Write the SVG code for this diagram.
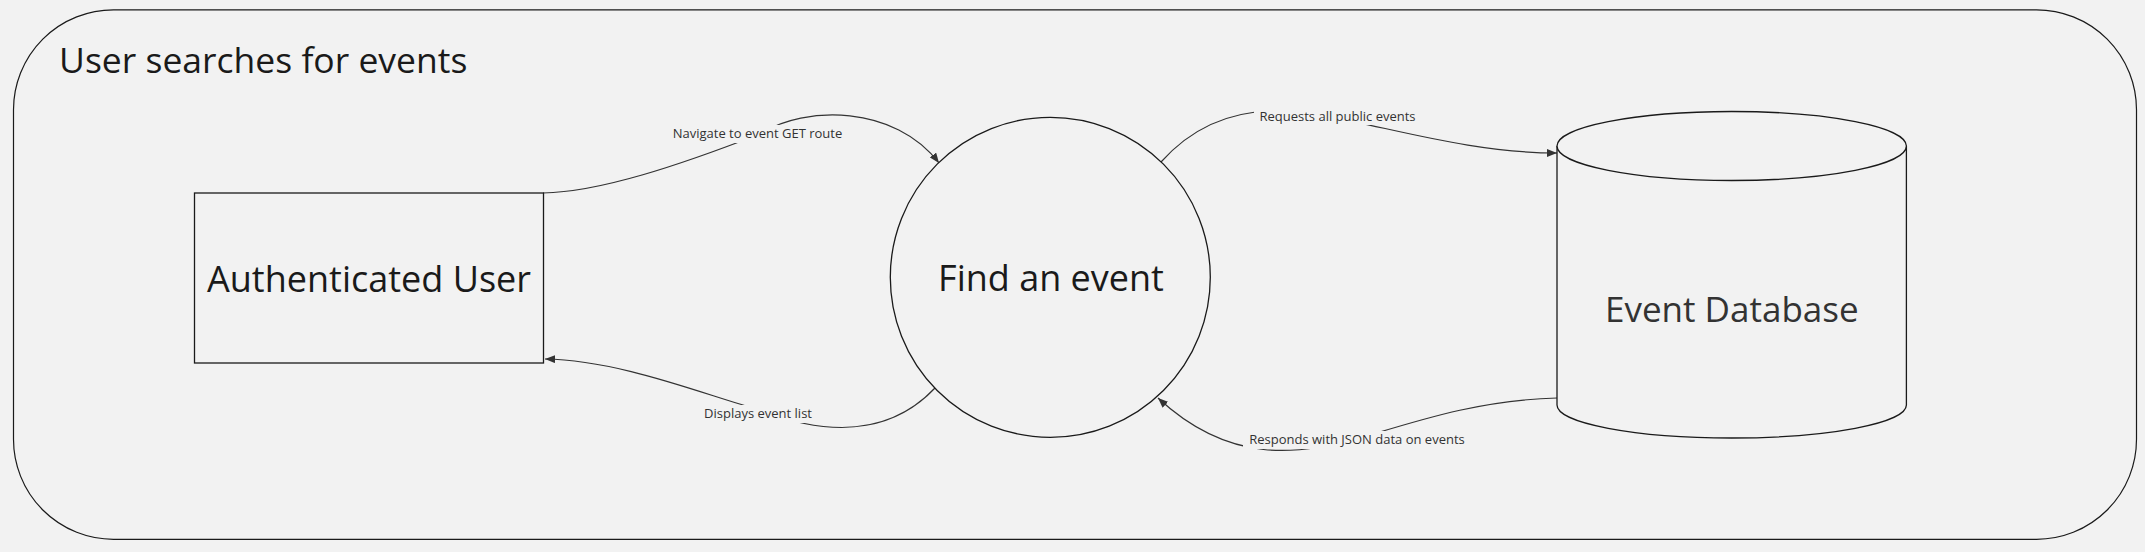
<svg xmlns="http://www.w3.org/2000/svg" width="2145" height="552" viewBox="0 0 2145 552">
<style>
.node{fill:#f2f2f2;stroke:#1a1a1a;stroke-width:1.3}
.big{font-family:"Open Sans","Noto Sans","Liberation Sans",sans-serif;font-size:36px;fill:#1a1a1a;text-anchor:middle}
.lbl{font-family:"Open Sans","Noto Sans","Liberation Sans",sans-serif;font-size:13px;fill:#333;text-anchor:middle}
.conn{fill:none;stroke:#333;stroke-width:1.2}
.mask{fill:#f2f2f2}
</style>
<defs>
<marker id="arr" viewBox="0 0 10 8" refX="10" refY="4" markerWidth="10" markerHeight="8" markerUnits="userSpaceOnUse" orient="auto">
<path d="M0,0 L10,4 L0,8 z" fill="#333"/>
</marker>
</defs>
<rect x="0" y="0" width="2145" height="552" fill="#f2f2f2"/>
<g id="frame">
<rect x="13.5" y="9.8" width="2123" height="529.5" rx="100" ry="100" fill="#f2f2f2" stroke="#1a1a1a" stroke-width="1.2"/>
<text x="59" y="72.7" font-family="'Open Sans','Noto Sans','Liberation Sans',sans-serif" font-size="35.5" fill="#1a1a1a">User searches for events</text>
</g>
<g id="connectors">
<path class="conn" d="M543,193 C600,192 680,165 760,134 C805,105 895,105 939,163" marker-end="url(#arr)"/>
<path class="conn" d="M935,388 C900,425 845,443 760,410 C705,395 620,360 545,359" marker-end="url(#arr)"/>
<path class="conn" d="M1161,162 C1195,124 1235,110 1280,111 C1350,113 1450,153 1557,153" marker-end="url(#arr)"/>
<path class="conn" d="M1557,398 C1480,400 1420,420 1360,438 C1300,455 1230,465 1158,398" marker-end="url(#arr)"/>
<g id="lbl-navigate"><rect class="mask" x="668" y="125" width="180" height="18"/><text class="lbl" x="757.5" y="138">Navigate to event GET route</text></g>
<g id="lbl-displays"><rect class="mask" x="699" y="405" width="118" height="18"/><text class="lbl" x="758" y="418">Displays event list</text></g>
<g id="lbl-requests"><rect class="mask" x="1254" y="107" width="167" height="18"/><text class="lbl" x="1337.5" y="120.7">Requests all public events</text></g>
<g id="lbl-responds"><rect class="mask" x="1243" y="431" width="228" height="18"/><text class="lbl" x="1357" y="444">Responds with JSON data on events</text></g>
</g>
<g id="node-user">
<rect class="node" x="194.5" y="193" width="349" height="170"/>
<text class="big" x="369" y="291.5">Authenticated User</text>
</g>
<g id="node-find">
<circle class="node" cx="1050.3" cy="277.3" r="160"/>
<text class="big" x="1051" y="291">Find an event</text>
</g>
<g id="node-db">
<path class="node" d="M1557,146 L1557,405 A174.7,33 0 0 0 1906.4,405 L1906.4,146"/>
<ellipse class="node" cx="1731.7" cy="146" rx="174.7" ry="34.5"/>
<text class="big" x="1731.8" y="322" style="fill:#333;font-size:35px">Event Database</text>
</g>
</svg>
